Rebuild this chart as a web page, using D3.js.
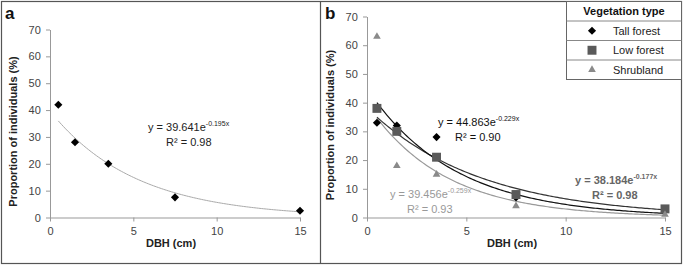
<!DOCTYPE html>
<html>
<head>
<meta charset="utf-8">
<script src="https://cdn.jsdelivr.net/npm/d3@7"></script>
<style>
  body { margin: 0; background: #fff; }
  svg { display: block; font-family: "Liberation Sans", Arial, sans-serif; }
</style>
</head>
<body>
<svg id="chart" width="685" height="266"></svg>
<script>
// DBH class midpoints (cm)
const dbh = [0.5, 1.5, 3.5, 7.5, 15];
const yTicks = [0, 10, 20, 30, 40, 50, 60, 70];
const xTicks = [0, 5, 10, 15];

// panel a: all individuals
const allValues = [42, 28, 20, 7.5, 2.5];
const allFit = { a: 39.641, b: 0.195, r2: '0.98' };

// panel b: by vegetation type
const tallValues = [33, 32, 28, 7, 2.5];
const lowValues = [38, 30, 21, 8, 3];
const shrubValues = [63, 18, 15, 4, 1];
const tallFit = { a: 44.863, b: 0.229, r2: '0.90' };
const lowFit = { a: 38.184, b: 0.177, r2: '0.98' };
const shrubFit = { a: 39.456, b: 0.259, r2: '0.93' };
const legendLabels = ['Tall forest', 'Low forest', 'Shrubland'];

const svg = d3.select('#chart');

// outer frame + divider
svg.append('rect').attr('x', 1.5).attr('y', 1.5).attr('width', 680).attr('height', 262)
  .attr('fill', 'none').attr('stroke', '#555').attr('stroke-width', 1.2);
svg.append('line').attr('x1', 320.5).attr('x2', 320.5).attr('y1', 1.5).attr('y2', 263.5)
  .attr('stroke', '#555').attr('stroke-width', 1.2);

function panel(opts) {
  const g = svg.append('g');
  const x = d3.scaleLinear().domain([0, 15]).range([opts.x0, opts.x1]);
  const y = d3.scaleLinear().domain([0, 70]).range([opts.y0, opts.y1]);

  g.append('g')
    .attr('transform', `translate(0,${opts.y0})`)
    .call(d3.axisBottom(x).tickValues(xTicks).tickSize(4).tickSizeOuter(0))
    .call(a => a.selectAll('path,line').attr('stroke', '#999'))
    .call(a => a.selectAll('text').attr('fill', '#444').attr('font-size', 11)
      .attr('font-family', '"Liberation Sans", Arial, sans-serif').attr('dy', '0.95em'));

  g.append('g')
    .attr('transform', `translate(${opts.x0},0)`)
    .call(d3.axisLeft(y).tickValues(yTicks).tickSize(4).tickSizeOuter(0))
    .call(a => a.selectAll('path,line').attr('stroke', '#999'))
    .call(a => a.selectAll('text').attr('fill', '#444').attr('font-size', 11)
      .attr('font-family', '"Liberation Sans", Arial, sans-serif').attr('dx', '-0.2em'));

  g.append('text')
    .attr('x', (opts.x0 + opts.x1) / 2 - 4).attr('y', 247)
    .attr('text-anchor', 'middle').attr('font-size', 11).attr('font-weight', 'bold')
    .attr('fill', '#222').text('DBH (cm)');

  g.append('text')
    .attr('transform', `translate(${opts.titleX},${(opts.y0 + y(70)) / 2 + 8}) rotate(-90)`)
    .attr('text-anchor', 'middle').attr('font-size', 11).attr('font-weight', 'bold')
    .attr('fill', '#222').text('Proportion of individuals (%)');

  g.append('text').attr('x', opts.labelX).attr('y', 19)
    .attr('font-size', 17).attr('font-weight', 'bold').attr('fill', '#111').text(opts.label);

  return { g, x, y };
}

function fitLine(p, fit, color, width) {
  const xs = d3.range(0.5, 15.01, 0.1);
  const line = d3.line().x(d => p.x(d)).y(d => p.y(fit.a * Math.exp(-fit.b * d)));
  p.g.append('path').datum(xs).attr('d', line)
    .attr('fill', 'none').attr('stroke', color).attr('stroke-width', width);
}

function equation(p, fit, x, y, x2, color, bold) {
  const t = p.g.append('text').attr('x', x).attr('y', y)
    .attr('font-size', 11).attr('fill', color).attr('font-weight', bold ? 'bold' : 'normal');
  t.append('tspan').text(`y = ${fit.a.toFixed(3)}e`);
  t.append('tspan').attr('font-size', 7).attr('dy', -5).text(`-${fit.b.toFixed(3)}x`);
  p.g.append('text').attr('x', x2).attr('y', y + 15)
    .attr('font-size', 11).attr('fill', color).attr('font-weight', bold ? 'bold' : 'normal')
    .text(`R² = ${fit.r2}`);
}

const shapes = {
  diamond: d3.symbol().type(d3.symbolDiamond2).size(42),
  square: d3.symbol().type(d3.symbolSquare).size(80),
  triangle: d3.symbol().type(d3.symbolTriangle2).size(42)
};

function points(p, values, shape, color) {
  p.g.append('g').selectAll('path').data(values).join('path')
    .attr('transform', (d, i) => `translate(${p.x(dbh[i])},${p.y(d)})`)
    .attr('d', shapes[shape]).attr('fill', color);
}

// panel a
const pa = panel({ x0: 50, x1: 300, y0: 217.5, y1: 29.5, titleX: 17, labelX: 5, label: 'a' });
fitLine(pa, allFit, '#aaa', 1);
points(pa, allValues, 'diamond', '#000');
equation(pa, allFit, 148, 131, 166, '#222', false);

// panel b
const pb = panel({ x0: 367, x1: 665, y0: 217.5, y1: 16.5, titleX: 334, labelX: 325, label: 'b' });
fitLine(pb, shrubFit, '#999', 1.2);
fitLine(pb, lowFit, '#333', 1.2);
fitLine(pb, tallFit, '#111', 1.2);
points(pb, tallValues, 'diamond', '#000');
points(pb, lowValues, 'square', '#5a5a5a');
points(pb, shrubValues, 'triangle', '#8a8a8a');
equation(pb, tallFit, 438, 126, 455, '#111', false);
equation(pb, shrubFit, 390, 198, 407, '#999', false);
equation(pb, lowFit, 575, 184, 592, '#666', true);

// legend
const lg = svg.append('g');
const lgX = 566, lgW = 115, rowH = 19.5;
lg.append('rect').attr('x', lgX + 0.5).attr('y', 1.5).attr('width', lgW).attr('height', rowH * 4)
  .attr('fill', '#fff').attr('stroke', '#666');
[1, 2, 3].forEach(i => {
  lg.append('line').attr('x1', lgX + 0.5).attr('x2', lgX + lgW + 0.5)
    .attr('y1', 1.5 + rowH * i).attr('y2', 1.5 + rowH * i).attr('stroke', '#888');
});
lg.append('text').attr('x', lgX + 58).attr('y', 15).attr('text-anchor', 'middle')
  .attr('font-size', 11).attr('font-weight', 'bold').attr('fill', '#111').text('Vegetation type');
const legendShapes = [['diamond', '#000'], ['square', '#5a5a5a'], ['triangle', '#8a8a8a']];
legendLabels.forEach((name, i) => {
  const cy = 1.5 + rowH * (i + 1) + rowH / 2;
  lg.append('path').attr('transform', `translate(${lgX + 26},${cy})`)
    .attr('d', shapes[legendShapes[i][0]]).attr('fill', legendShapes[i][1]);
  lg.append('text').attr('x', lgX + 47).attr('y', cy + 4)
    .attr('font-size', 11).attr('fill', '#222').text(name);
});
</script>
</body>
</html>
